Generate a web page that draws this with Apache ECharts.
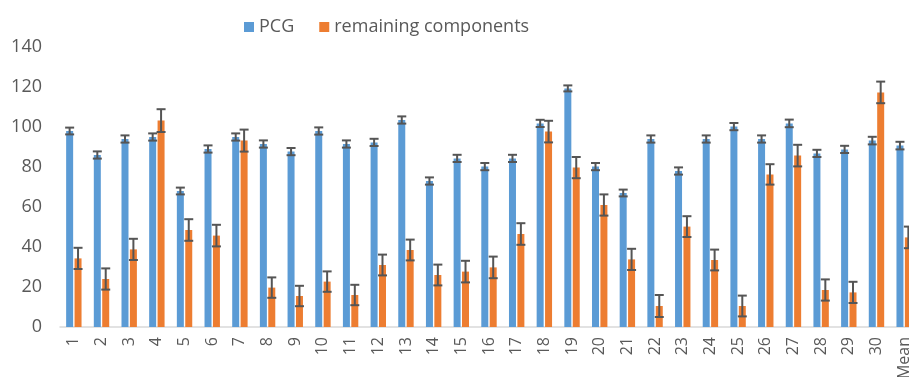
<!DOCTYPE html>
<html>
<head>
<meta charset="utf-8">
<script src="https://cdn.jsdelivr.net/npm/echarts@6/dist/echarts.min.js"></script>
<style>
  html, body { margin: 0; padding: 0; background: #fff; }
  #chart { width: 909px; height: 377px; }
</style>
</head>
<body>
<div id="chart"></div>
<script>
// categories on the x axis
var categories = ['1','2','3','4','5','6','7','8','9','10','11','12','13','14','15',
                  '16','17','18','19','20','21','22','23','24','25','26','27','28','29','30','Mean'];

// PCG bars and their error
var pcg = [98, 86, 94, 95, 68, 89, 95, 91.5, 87.7, 98, 91.5, 92.3, 103.5, 73, 84.3,
           80.2, 84.3, 101.8, 119.3, 80.2, 67, 94, 78, 94, 100.2, 94, 101.8, 86.8, 88.8, 93.2, 90.7];
var pcgErr = [1.7, 1.8, 1.8, 1.8, 1.7, 1.8, 1.8, 1.8, 1.8, 1.8, 1.8, 1.8, 1.8, 1.8, 1.8,
              1.8, 1.8, 1.8, 1.5, 1.8, 1.7, 1.8, 1.8, 1.8, 1.8, 1.8, 1.9, 1.8, 1.8, 1.9, 1.9];

// remaining components bars and their error
var remaining = [34.3, 24, 38.8, 103.2, 48.5, 45.7, 93.2, 19.7, 15.5, 22.7, 16, 31, 38.5, 26, 27.7,
                 29.8, 46.5, 97.7, 79.7, 61, 33.8, 10.5, 50.2, 33.5, 10.5, 76.3, 85.7, 18.5, 17.3, 117.3, 44.8];
var remainingErr = [5.3, 5.3, 5.3, 5.7, 5.4, 5.4, 5.5, 5.1, 5.1, 5.1, 5.1, 5.2, 5.2, 5.2, 5.4,
                    5.4, 5.4, 5.4, 5.3, 5.3, 5.3, 5.5, 5.2, 5.2, 5.2, 5.1, 5.4, 5.3, 5.3, 5.4, 5.4];

// y axis ticks
var yMin = 0, yMax = 140, yStep = 20;

var chart = echarts.init(document.getElementById('chart'));

// error bar drawer, shift = horizontal offset from category centre
function errorBar(shift) {
    return function (params, api) {
        var idx = api.value(0);
        var lo = api.coord([idx, api.value(1)]);
        var hi = api.coord([idx, api.value(2)]);
        var x = lo[0] + shift;
        var half = 4.5;
        var st = { stroke: '#555555', lineWidth: 2 };
        return {
            type: 'group',
            children: [
                { type: 'line', shape: { x1: x, y1: lo[1], x2: x, y2: hi[1] }, style: st },
                { type: 'line', shape: { x1: x - half, y1: lo[1], x2: x + half, y2: lo[1] }, style: st },
                { type: 'line', shape: { x1: x - half, y1: hi[1], x2: x + half, y2: hi[1] }, style: st }
            ]
        };
    };
}

function errData(vals, errs) {
    return vals.map(function (v, i) { return [i, v - errs[i], v + errs[i]]; });
}

chart.setOption({
    animation: false,
    backgroundColor: '#ffffff',
    legend: {
        data: ['PCG', 'remaining components'],
        left: 239,
        top: 13,
        itemWidth: 10,
        itemHeight: 10,
        itemGap: 25,
        icon: 'rect',
        textStyle: { color: '#595959', fontFamily: 'Open Sans', fontSize: 18 }
    },
    grid: { left: 60, top: 47, bottom: 50, width: 858, outerBoundsMode: 'none' },
    xAxis: {
        type: 'category',
        data: categories,
        axisLine: { lineStyle: { color: '#d9d9d9', width: 1.5 } },
        axisTick: { show: false },
        axisLabel: { interval: 0, rotate: 90, margin: 10, color: '#595959', fontFamily: 'Open Sans', fontSize: 16 }
    },
    yAxis: {
        type: 'value',
        min: yMin,
        max: yMax,
        interval: yStep,
        splitLine: { show: false },
        axisLine: { show: false },
        axisTick: { show: false },
        axisLabel: { margin: 18, color: '#595959', fontFamily: 'Open Sans', fontSize: 18 }
    },
    series: [
        {
            name: 'PCG',
            type: 'bar',
            data: pcg,
            barWidth: 7,
            barGap: '20%',
            itemStyle: { color: '#5B9BD5' }
        },
        {
            name: 'remaining components',
            type: 'bar',
            data: remaining,
            barWidth: 7,
            itemStyle: { color: '#ED7D31' }
        },
        {
            type: 'custom',
            renderItem: errorBar(-4.2),
            data: errData(pcg, pcgErr),
            encode: { x: 0, y: [1, 2] },
            z: 10
        },
        {
            type: 'custom',
            renderItem: errorBar(4.2),
            data: errData(remaining, remainingErr),
            encode: { x: 0, y: [1, 2] },
            z: 10
        }
    ]
});
</script>
</body>
</html>
